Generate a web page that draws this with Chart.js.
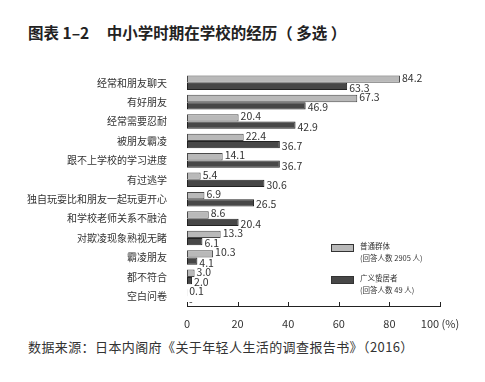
<!DOCTYPE html>
<html>
<head>
<meta charset="utf-8">
<script src="https://cdn.jsdelivr.net/npm/chart.js@4.4.0/dist/chart.umd.min.js"></script>
<style>
  body { margin: 0; background: #fff; width: 485px; height: 382px; position: relative; overflow: hidden;
         font-family: "Noto Sans CJK SC", "Noto Sans", sans-serif; }
  #title { position: absolute; left: 28px; top: 21px; font-size: 15.5px; font-weight: bold; color: #222; white-space: nowrap; }
  #source { position: absolute; left: 28px; top: 337px; font-size: 13px; color: #333; letter-spacing: 0.4px; white-space: nowrap; }
  #box { position: absolute; left: 0; top: 55px; width: 485px; height: 280px; }
</style>
</head>
<body>
<div id="title">图表 1–2&nbsp;&nbsp;&nbsp;&nbsp;&nbsp;中小学时期在学校的经历（ 多选 ）</div>
<div id="box"><canvas id="chart"></canvas></div>
<div id="source">数据来源：日本内阁府《关于年轻人生活的调查报告书》（2016）</div>
<script>
const categories = [
    "经常和朋友聊天", "有好朋友", "经常需要忍耐", "被朋友霸凌", "跟不上学校的学习进度",
    "有过逃学", "独自玩耍比和朋友一起玩更开心", "和学校老师关系不融洽",
    "对欺凌现象熟视无睹", "霸凌朋友", "都不符合", "空白问卷"
];
const generalGroup = [84.2, 67.3, 20.4, 22.4, 14.1, 5.4, 6.9, 8.6, 13.3, 10.3, 3.0, 0.1];
const hikikomori = [63.3, 46.9, 42.9, 36.7, 36.7, 30.6, 26.5, 20.4, 6.1, 4.1, 2.0, 0];
const hikikomoriLabels = ["63.3", "46.9", "42.9", "36.7", "36.7", "30.6", "26.5", "20.4", "6.1", "4.1", "2.0", "-"];
const seriesNames = ["普通群体", "广义蛰居者"];
const seriesNotes = ["(回答人数 2905 人)", "(回答人数 49 人)"];
const xTicks = [0, 20, 40, 60, 80, 100];

const fontFamily = '"Noto Sans CJK SC", "Noto Sans", sans-serif';

// value labels at the end of each bar
const valueLabels = {
    id: 'valueLabels',
    afterDatasetsDraw(chart) {
        const ctx = chart.ctx;
        ctx.save();
        ctx.font = '10.5px ' + fontFamily;
        ctx.fillStyle = '#333';
        ctx.textBaseline = 'middle';
        ctx.textAlign = 'left';
        chart.data.datasets.forEach((ds, i) => {
            chart.getDatasetMeta(i).data.forEach((bar, j) => {
                const txt = i === 0 ? ds.data[j].toFixed(1) : hikikomoriLabels[j];
                ctx.fillText(txt, bar.x + 2, bar.y + (i === 0 ? -1.5 : 1.5));
            });
        });
        ctx.restore();
    }
};

// legend inside the plot + upward tick marks on x axis
const extras = {
    id: 'extras',
    afterDraw(chart) {
        const ctx = chart.ctx;
        const x = chart.scales.x;
        const area = chart.chartArea;
        ctx.save();
        ctx.setTransform(1, 0, 0, 1, 0, 0);
        ctx.strokeStyle = '#222';
        ctx.lineWidth = 1;
        ctx.beginPath();
        xTicks.forEach(v => {
            const px = Math.round(x.getPixelForValue(v)) + 0.5;
            ctx.moveTo(px, area.bottom);
            ctx.lineTo(px, area.bottom - 4);
        });
        ctx.stroke();

        const fills = ['#b9b9b9', '#474747'];
        const tops = [189, 221];
        const left = Math.round(x.getPixelForValue(57));
        ctx.font = '7.5px ' + fontFamily;
        ctx.textBaseline = 'middle';
        ctx.textAlign = 'left';
        tops.forEach((t, i) => {
            ctx.fillStyle = fills[i];
            ctx.fillRect(left, t, 23, 8);
            ctx.strokeStyle = '#333';
            ctx.strokeRect(left + 0.5, t + 0.5, 22, 7);
            ctx.fillStyle = '#333';
            ctx.fillText(seriesNames[i], left + 29, t + 2);
            ctx.fillText(seriesNotes[i], left + 29, t + 14);
        });
        ctx.restore();
    }
};

new Chart(document.getElementById('chart'), {
    type: 'bar',
    data: {
        labels: categories,
        datasets: [
            {
                label: seriesNames[0],
                data: generalGroup,
                backgroundColor: '#b9b9b9',
                borderColor: '#4a4a4a',
                borderWidth: 1,
                borderSkipped: false
            },
            {
                label: seriesNames[1],
                data: hikikomori,
                backgroundColor: '#474747',
                borderColor: '#222',
                borderWidth: 1,
                borderSkipped: false
            }
        ]
    },
    options: {
        indexAxis: 'y',
        responsive: true,
        maintainAspectRatio: false,
        animation: false,
        categoryPercentage: 0.75,
        barPercentage: 1,
        layout: { padding: { top: 7, right: 45, bottom: 0, left: 0 } },
        plugins: {
            legend: { display: false },
            tooltip: { enabled: false }
        },
        scales: {
            x: {
                min: 0,
                max: 100,
                afterBuildTicks: scale => { scale.ticks = xTicks.map(v => ({ value: v })); },
                grid: { display: false },
                border: { display: true, color: '#222', width: 1 },
                ticks: {
                    font: { size: 11, family: fontFamily },
                    color: '#333',
                    padding: 3,
                    callback: v => v === 100 ? '100 (%)' : v
                },
                afterFit: scale => { scale.height = 29; }
            },
            y: {
                grid: { display: false },
                border: { display: false },
                ticks: {
                    font: { size: 10, family: fontFamily },
                    color: '#333',
                    padding: 12
                },
                afterFit: scale => { scale.width = 187; }
            }
        }
    },
    plugins: [valueLabels, extras]
});
</script>
</body>
</html>
